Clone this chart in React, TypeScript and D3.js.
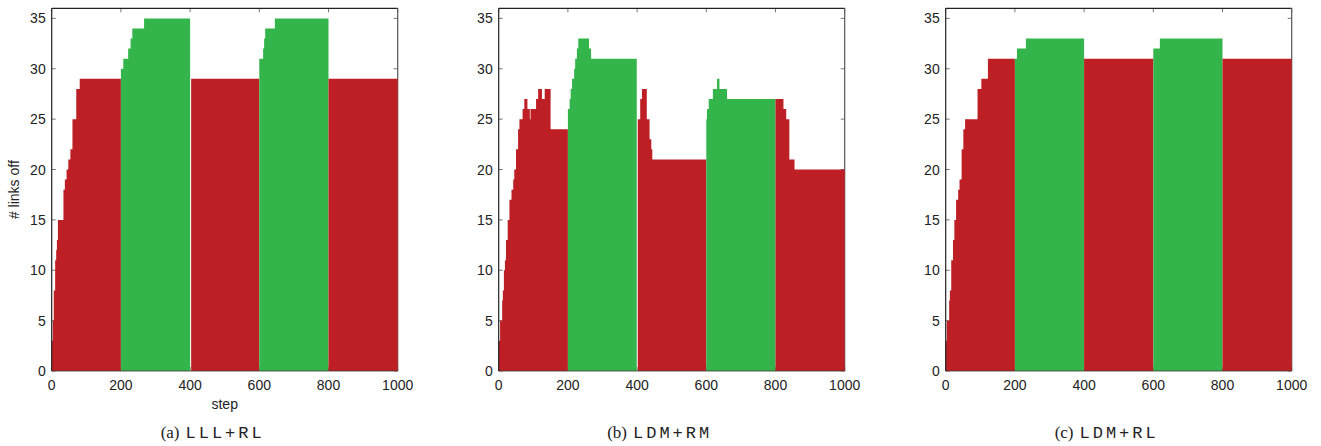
import React from "react";
import * as d3 from "d3";

// step-change points [step, links off]; the last point closes the segment
const redA1 = [[0, 3], [3, 5], [6, 8], [10, 11], [13, 12], [15, 13], [18, 15], [34, 18], [38, 19], [43, 20], [48, 21], [54, 22], [60, 25], [71, 28], [81, 29], [200, 29]];
const greenA1 = [[200, 30], [207, 31], [221, 32], [228, 33], [233, 34], [267, 35], [400, 35]];
const redA2 = [[403, 29], [600, 29]];
const greenA2 = [[600, 31], [611, 32], [614, 33], [617, 34], [645, 35], [800, 35]];
const redA3 = [[800, 29], [1000, 29]];

const redB1 = [[0, 3], [4, 5], [10, 7], [12, 8], [15, 10], [18, 11], [21, 13], [26, 15], [31, 17], [37, 18], [42, 19], [45, 20], [50, 22], [56, 24], [60, 25], [69, 26], [74, 27], [83, 26], [90, 25], [92, 26], [108, 27], [114, 28], [125, 27], [133, 28], [150, 24], [200, 24]];
const greenB1 = [[200, 26], [205, 27], [208, 28], [212, 29], [218, 30], [221, 31], [226, 32], [230, 33], [261, 32], [267, 31], [399, 31]];
const redB2 = [[402, 25], [409, 27], [414, 28], [428, 25], [436, 23], [441, 22], [444, 21], [600, 21]];
const greenB2 = [[600, 25], [602, 26], [607, 27], [619, 28], [631, 29], [638, 28], [660, 27], [800, 27]];
const redB3 = [[800, 27], [823, 26], [831, 25], [840, 21], [855, 20], [1000, 20]];

const redC1 = [[0, 3], [3, 5], [10, 7], [12, 8], [16, 11], [21, 13], [25, 15], [30, 17], [36, 18], [40, 19], [46, 22], [51, 24], [56, 25], [92, 28], [103, 29], [122, 31], [200, 31]];
const greenC1 = [[200, 31], [206, 32], [232, 33], [400, 33]];
const redC2 = [[400, 31], [600, 31]];
const greenC2 = [[600, 32], [619, 33], [800, 33]];
const redC3 = [[800, 31], [1000, 31]];

const xTicks = [0, 200, 400, 600, 800, 1000];
const yTicks = [0, 5, 10, 15, 20, 25, 30, 35];
const captions = ["(a)", "(b)", "(c)"];
const methods = ["LLL+RL", "LDM+RM", "LDM+RL"];

const RED = "#be1f25";
const GREEN = "#33b54b";

const panelSegs = [
  [redA1, greenA1, redA2, greenA2, redA3],
  [redB1, greenB1, redB2, greenB2, redB3],
  [redC1, greenC1, redC2, greenC2, redC3],
];
const lefts = [51.7, 498.7, 945.7];
const W = 346;
const TOP = 8.3;
const BOTTOM = 371;
const sans = "'Liberation Sans', Arial, Helvetica, sans-serif";

function Panel({ idx }: { idx: number }) {
  const left = lefts[idx];
  const x = d3.scaleLinear().domain([0, 1000]).range([left, left + W]);
  const y = d3.scaleLinear().domain([0, 36]).range([BOTTOM, TOP]);
  const area = d3.area<number[]>()
    .x(d => x(d[0]))
    .y0(y(0))
    .y1(d => y(d[1]))
    .curve(d3.curveStepAfter);
  const cx = left + W / 2;
  return (
    <g>
      {/* ticks, inward on all four sides */}
      <g stroke="#777" strokeWidth={1}>
        {xTicks.map(t => (
          <g key={"x" + t}>
            <line x1={x(t)} x2={x(t)} y1={BOTTOM} y2={BOTTOM - 4} />
            <line x1={x(t)} x2={x(t)} y1={TOP} y2={TOP + 4} />
          </g>
        ))}
        {yTicks.map(t => (
          <g key={"y" + t}>
            <line x1={left} x2={left + 4} y1={y(t)} y2={y(t)} />
            <line x1={left + W} x2={left + W - 4} y1={y(t)} y2={y(t)} />
          </g>
        ))}
      </g>
      <line x1={left} x2={left + W} y1={TOP} y2={TOP} stroke="#222" strokeWidth={1.2} />
      <line x1={left + W} x2={left + W} y1={TOP} y2={BOTTOM} stroke="#555" strokeWidth={1.2} />
      {panelSegs[idx].map((seg, i) => (
        <path key={i} d={area(seg) || ""} fill={i % 2 === 0 ? RED : GREEN} />
      ))}
      <line x1={left} x2={left} y1={TOP} y2={BOTTOM} stroke="#222" strokeWidth={1.2} />
      <line x1={left} x2={left + W} y1={BOTTOM} y2={BOTTOM} stroke="#3a3a2a" strokeWidth={0.8} />
      {xTicks.map(t => (
        <text key={"xl" + t} x={x(t)} y={390} textAnchor="middle" fontFamily={sans} fontSize={14} fill="#222">{t}</text>
      ))}
      {yTicks.map(t => (
        <text key={"yl" + t} x={left - 6} y={y(t)} dy="0.36em" textAnchor="end" fontFamily={sans} fontSize={14} fill="#222">{t}</text>
      ))}
      {idx === 0 && (
        <>
          <text x={cx} y={409} textAnchor="middle" fontFamily={sans} fontSize={14} fill="#222">step</text>
          <text transform={`translate(19,${(TOP + BOTTOM) / 2}) rotate(-90)`} textAnchor="middle" fontFamily={sans} fontSize={14} fill="#222"># links off</text>
        </>
      )}
      <text x={cx - 12} y={438} textAnchor="middle" fill="#222">
        <tspan fontFamily="'Liberation Serif', 'Times New Roman', serif" fontSize={17}>{captions[idx]}</tspan>
        <tspan fontFamily="'Liberation Mono', 'Courier New', monospace" fontSize={17} letterSpacing={3} dx={6}>{methods[idx]}</tspan>
      </text>
    </g>
  );
}

export default function App() {
  return (
    <div style={{ position: "fixed", left: 0, top: 0 }}>
      <svg width={1321} height={446} viewBox="0 0 1321 446" style={{ display: "block", background: "#fff" }}>
        {[0, 1, 2].map(i => <Panel key={i} idx={i} />)}
      </svg>
    </div>
  );
}
